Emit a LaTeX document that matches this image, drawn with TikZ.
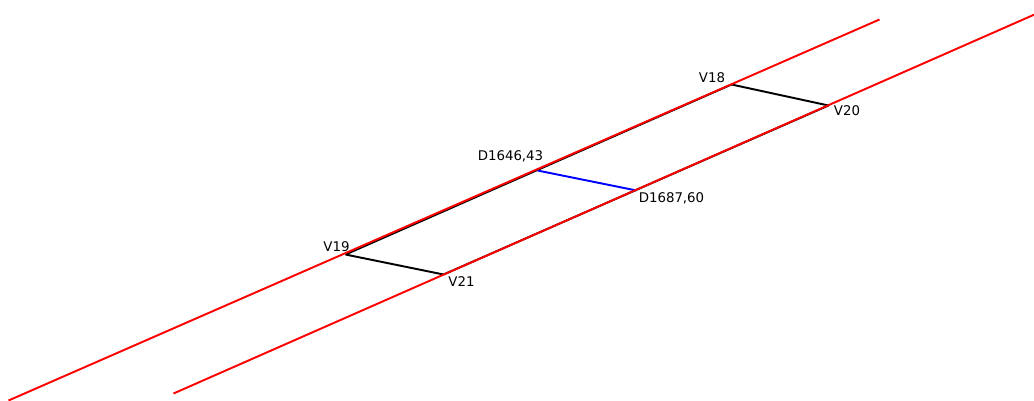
\documentclass[tikz,border=0pt]{standalone}
\usepackage{fontspec}
\setmainfont{DejaVu Sans}
\tikzset{
  redline/.style={draw=red,line width=1.45pt},
  blackline/.style={draw=black,line width=1.45pt},
  blueline/.style={draw=blue,line width=1.45pt},
  lbl/.style={inner sep=0pt,anchor=center,font=\fontsize{10}{12}\selectfont},
}
\begin{document}
\begin{tikzpicture}[x=0.75pt,y=-0.75pt]
\useasboundingbox (0,0) rectangle (1034,400);
\coordinate (v19) at (345.5,254.5);
\coordinate (v18) at (731.5,84.5);
\coordinate (v21) at (443.5,274.5);
\coordinate (v20) at (828.5,105.5);
\coordinate (d1) at (537.5,170.5);
\coordinate (d2) at (636.5,190.5);
\coordinate (r1a) at (8.5,400.5);
\coordinate (r1b) at (879.5,19.5);
\coordinate (r2a) at (173.5,393.5);
\coordinate (r2b) at (1034.5,14.5);
\draw[blackline] (v19) -- (v18);
\draw[blackline] (v21) -- (v20);
\draw[blackline] (v19) -- (v21);
\draw[blackline] (v18) -- (v20);
\draw[blueline] (d1) -- (d2);
\draw[redline] (r1a) -- (r1b);
\draw[redline] (r2a) -- (r2b);
\node[lbl] (t19) at (336.5,246.5) {V19};
\node[lbl] (t18) at (712,77.5) {V18};
\node[lbl] (t21) at (461.5,281.5) {V21};
\node[lbl] (t20) at (847,111) {V20};
\node[lbl] (td1) at (510.5,156.5) {D1646,43};
\node[lbl] (td2) at (671.5,198.5) {D1687,60};
\end{tikzpicture}
\end{document}
